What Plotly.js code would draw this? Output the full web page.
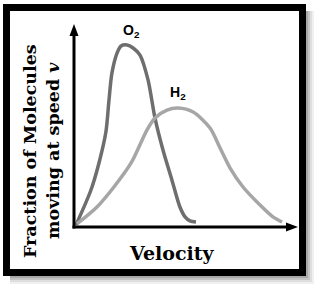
<!DOCTYPE html>
<html>
<head>
<meta charset="utf-8">
<script src="https://cdn.plot.ly/plotly-3.0.1.min.js"></script>
<style>html,body{margin:0;padding:0;background:#fff;}#chart{width:320px;height:290px;}</style>
</head>
<body>
<div id="chart"></div>
<script>
// Velocity (arbitrary units) and fraction of molecules (arbitrary units)
var o2Velocity = [0.9, 7.6, 11.2, 14.3, 15.7, 17.0, 19.3, 21.1, 23.8, 26.5, 29.6, 33.2, 36.3, 39.9, 43.9, 47.5, 49.8, 52.0, 54.7];
var o2Fraction = [1.0, 18.3, 31.7, 47.0, 62.9, 76.2, 86.1, 89.6, 90.1, 88.6, 85.1, 72.8, 54.0, 38.1, 23.3, 9.9, 5.0, 3.0, 2.5];
var h2Velocity = [1.3, 10.3, 17.9, 25.6, 32.7, 36.3, 41.7, 46.6, 53.4, 61.0, 65.5, 70.0, 75.8, 83.4, 89.2, 93.3];
var h2Fraction = [1.5, 9.9, 19.8, 31.7, 48.0, 54.0, 57.9, 58.9, 56.9, 49.0, 39.1, 29.2, 19.8, 10.9, 5.0, 2.5];
var seriesLabels = ['O<sub>2</sub>', 'H<sub>2</sub>'];
var xTitle = 'Velocity';
var yTitleLines = ['Fraction of Molecules', 'moving at speed <i>v</i>'];

var L = 74, R = 23, T = 25, B = 63, W = 320, H = 290;
var pw = W - L - R, ph = H - T - B;
function px(x) { return (x - L) / pw; }
function py(y) { return (H - B - y) / ph; }

var traces = [
  {x: o2Velocity, y: o2Fraction, mode: 'lines', line: {color: '#6e6e6e', width: 3.5, shape: 'spline', smoothing: 0.8}, hoverinfo: 'skip'},
  {x: h2Velocity, y: h2Fraction, mode: 'lines', line: {color: '#a6a6a6', width: 3.5, shape: 'spline', smoothing: 0.8}, hoverinfo: 'skip'}
];

var shapes = [];
var shadowCols = ['#f0f0f0', '#dedede', '#c4c4c4', '#a8a8a8'];
for (var k = 0; k < 4; k++) {
  var off = 8 - 2 * k;
  shapes.push({type: 'rect', xref: 'paper', yref: 'paper', layer: 'below',
    x0: px(10), y0: py(11), x1: px(306 + off), y1: py(276 + off),
    line: {width: 0}, fillcolor: shadowCols[k]});
}
shapes.push({type: 'rect', xref: 'paper', yref: 'paper', layer: 'below',
  x0: px(6.5), y0: py(7.5), x1: px(302.5), y1: py(272.5),
  line: {width: 7, color: '#000'}, fillcolor: '#fff'});

// axis lines with arrowheads
shapes.push({type: 'line', xref: 'paper', yref: 'paper', x0: px(74), y0: py(228.5), x1: px(74), y1: py(33),
  line: {width: 3, color: '#000'}});
shapes.push({type: 'line', xref: 'paper', yref: 'paper', x0: px(72.5), y0: py(227), x1: px(289), y1: py(227),
  line: {width: 3, color: '#000'}});
function tri(a, b, c) {
  return 'M' + px(a[0]) + ',' + py(a[1]) + ' L' + px(b[0]) + ',' + py(b[1]) + ' L' + px(c[0]) + ',' + py(c[1]) + ' Z';
}
shapes.push({type: 'path', xref: 'paper', yref: 'paper', path: tri([74, 24], [69.5, 36], [78.5, 36]),
  fillcolor: '#000', line: {width: 0}});
shapes.push({type: 'path', xref: 'paper', yref: 'paper', path: tri([298, 227], [286, 222.5], [286, 231.5]),
  fillcolor: '#000', line: {width: 0}});

var labelFont = {family: 'Liberation Sans, Arial, sans-serif', size: 14, color: '#000', weight: 'bold'};
var titleFont = {family: 'DejaVu Serif, serif', size: 17.5, color: '#000', weight: 'bold'};

var annotations = [
  {x: 25.6, y: 97.0, xref: 'x', yref: 'y', xanchor: 'center', yanchor: 'middle', text: seriesLabels[0], showarrow: false, font: labelFont},
  {x: 46.6, y: 66.5, xref: 'x', yref: 'y', xanchor: 'center', yanchor: 'middle', text: seriesLabels[1], showarrow: false, font: labelFont},
  {x: px(172), y: py(253), xref: 'paper', yref: 'paper', xanchor: 'center', yanchor: 'middle', text: xTitle, showarrow: false,
   font: {family: 'DejaVu Serif, serif', size: 19, color: '#000', weight: 'bold'}},
  {x: px(30), y: py(151), xref: 'paper', yref: 'paper', xanchor: 'center', yanchor: 'middle', text: yTitleLines[0], showarrow: false, textangle: -90, font: titleFont},
  {x: px(53), y: py(151), xref: 'paper', yref: 'paper', xanchor: 'center', yanchor: 'middle', text: yTitleLines[1], showarrow: false, textangle: -90, font: titleFont}
];

var layout = {
  width: W, height: H,
  margin: {l: L, r: R, t: T, b: B, pad: 0},
  paper_bgcolor: '#fff', plot_bgcolor: 'rgba(0,0,0,0)',
  showlegend: false,
  xaxis: {range: [0, 100], showgrid: false, zeroline: false, showline: false, showticklabels: false, ticks: ''},
  yaxis: {range: [0, 100], showgrid: false, zeroline: false, showline: false, showticklabels: false, ticks: ''},
  shapes: shapes,
  annotations: annotations
};

Plotly.newPlot('chart', traces, layout, {staticPlot: true, displayModeBar: false});
</script>
</body>
</html>
